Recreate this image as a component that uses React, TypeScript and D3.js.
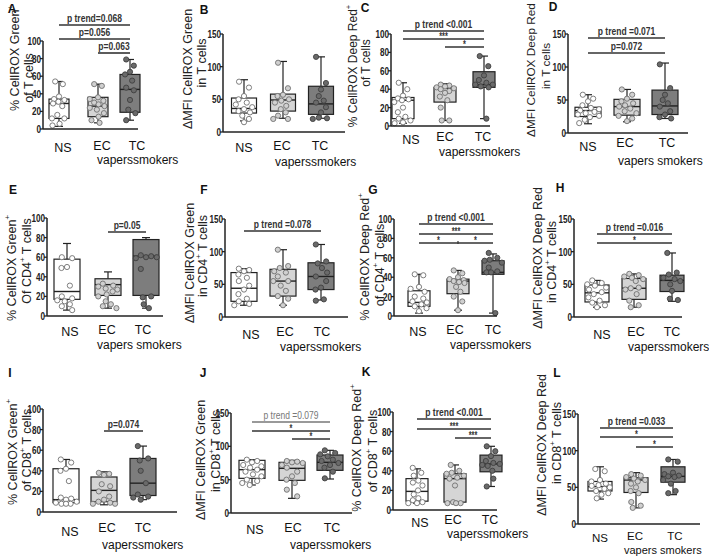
import React from "react";
import * as d3 from "d3";

// ---------- categories ----------
const GROUPS = ["NS", "EC", "TC"];

// ---------- panel A: % CellROX Green+ of T cells ----------
const A_NS = [54, 51, 37, 34, 33, 31, 29, 26, 16, 12, 12, 6, 4];
const A_EC = [51, 49, 36, 34, 32, 30, 28, 26, 24, 22, 18, 14, 10, 7];
const A_TC = [79, 72, 65, 62, 55, 47, 44, 33, 22, 18, 10];
const A_BOX = [[3, 12, 29, 34, 54], [7, 14, 26, 36, 51], [10, 19, 45, 62, 79]];
const A_BR: [string, number, number][] = [["p trend=0.068", 0, 2], ["p=0.056", 0, 2], ["p=0.063", 1, 2]];

// ---------- panel B ----------
const B_NS = [77, 68, 55, 50, 45, 42, 38, 35, 32, 30, 25, 20, 15];
const B_EC = [106, 67, 57, 55, 50, 48, 45, 40, 35, 30, 25, 20, 20];
const B_TC = [115, 75, 65, 55, 48, 45, 38, 30, 22, 20, 21];
const B_BOX = [[17, 29, 36, 52, 80], [21, 32, 49, 58, 108], [21, 27, 43, 70, 115]];
const B_BR: [string, number, number][] = [];

// ---------- panel C ----------
const C_NS = [47, 40, 33, 30, 29, 28, 26, 20, 15, 10, 8, 6, 4, 3];
const C_EC = [45, 44, 43, 42, 41, 40, 38, 36, 32, 28, 20, 6, 6];
const C_TC = [76, 65, 55, 50, 47, 45, 45, 43, 42, 8];
const C_BOX = [[3, 8, 28, 31, 47], [6, 26, 41, 42, 46], [8, 42, 45, 59, 76]];
const C_BR: [string, number, number][] = [["p trend <0.001", 0, 2], ["***", 0, 2], ["*", 1, 2]];

// ---------- panel D ----------
const D_NS = [58, 52, 48, 42, 38, 36, 34, 32, 30, 28, 26, 24, 20, 15];
const D_EC = [66, 58, 52, 48, 45, 42, 40, 37, 33, 30, 26, 22, 18];
const D_TC = [104, 68, 58, 50, 45, 40, 33, 28, 24, 22];
const D_BOX = [[14, 25, 34, 39, 58], [17, 27, 40, 51, 66], [22, 28, 41, 65, 106]];
const D_BR: [string, number, number][] = [["p trend =0.071", 0, 2], ["p=0.072", 0, 2]];

// ---------- panel E ----------
const E_NS = [60, 59, 50, 49, 31, 20, 18, 16, 15, 12, 10, 6];
const E_EC = [33, 31, 30, 28, 27, 25, 22, 20, 15, 12, 10, 8];
const E_TC = [62, 61, 60, 60, 59, 48, 20, 19, 12, 8];
const E_BOX = [[6, 17, 25, 58, 74], [8, 21, 32, 38, 45], [8, 21, 61, 78, 80]];
const E_BR: [string, number, number][] = [["p=0.05", 1, 2]];

// ---------- panel F ----------
const F_NS = [74, 72, 70, 65, 60, 55, 48, 42, 35, 28, 24, 20, 18];
const F_EC = [103, 78, 75, 70, 68, 62, 55, 55, 48, 40, 32, 28, 18];
const F_TC = [111, 85, 82, 75, 68, 62, 55, 45, 42, 27, 25];
const F_BOX = [[18, 24, 44, 68, 74], [18, 32, 55, 73, 103], [26, 42, 62, 83, 111]];
const F_BR: [string, number, number][] = [["p trend =0.078", 0, 2]];

// ---------- panel G ----------
const G_NS = [43, 42, 30, 28, 25, 20, 18, 15, 14, 12, 10, 8, 5];
const G_EC = [47, 44, 40, 38, 37, 36, 35, 34, 30, 25, 20, 15, 6];
const G_TC = [65, 60, 58, 57, 55, 50, 46, 45, 45, 3];
const G_BOX = [[3, 10, 14, 26, 43], [6, 23, 36, 38, 47], [3, 43, 45, 57, 64]];
const G_BR: [string, number, number][] = [["p trend <0.001", 0, 2], ["***", 0, 2], ["*|*", 0, 2]];

// ---------- panel H ----------
const H_NS = [56, 52, 50, 48, 45, 42, 38, 35, 30, 25, 22, 18, 15];
const H_EC = [66, 64, 62, 60, 58, 55, 45, 44, 42, 35, 25, 18, 15];
const H_TC = [98, 68, 65, 60, 58, 55, 50, 40, 28, 26];
const H_BOX = [[15, 23, 37, 49, 56], [15, 27, 44, 59, 66], [24, 39, 56, 64, 98]];
const H_BR: [string, number, number][] = [["p trend =0.016", 0, 2], ["*", 0, 2]];

// ---------- panel I ----------
const I_NS = [51, 48, 42, 40, 30, 14, 13, 12, 10, 9, 8, 8, 8];
const I_EC = [38, 37, 36, 27, 25, 20, 15, 12, 10, 9, 8, 8];
const I_TC = [64, 52, 50, 40, 28, 17, 15, 14, 12];
const I_BOX = [[9, 9, 12, 42, 51], [7, 10, 21, 34, 39], [12, 16, 28, 52, 64]];
const I_BR: [string, number, number][] = [["p=0.074", 1, 2]];

// ---------- panel J ----------
const J_NS = [80, 78, 76, 72, 70, 68, 65, 62, 58, 55, 50, 48, 45, 42];
const J_EC = [78, 77, 76, 75, 72, 68, 62, 55, 50, 45, 35, 25];
const J_TC = [94, 90, 88, 85, 80, 78, 75, 72, 68, 62, 52];
const J_BOX = [[42, 52, 65, 79, 80], [22, 49, 67, 76, 79], [51, 64, 76, 87, 94]];
const J_BR: [string, number, number][] = [["p trend =0.079", 0, 2], ["*", 0, 2], ["*", 1, 2]];

// ---------- panel K ----------
const K_NS = [43, 38, 35, 30, 28, 25, 20, 16, 12, 10, 8, 7, 7];
const K_EC = [46, 40, 38, 37, 35, 33, 32, 25, 8, 7, 7, 7];
const K_TC = [65, 60, 55, 50, 48, 47, 46, 45, 40, 32, 24];
const K_BOX = [[7, 9, 19, 32, 42], [7, 8, 32, 37, 46], [24, 39, 47, 56, 65]];
const K_BR: [string, number, number][] = [["p trend <0.001", 0, 2], ["***", 0, 2], ["***", 1, 2]];

// ---------- panel L ----------
const L_NS = [75, 72, 60, 58, 55, 53, 52, 50, 48, 45, 42, 40, 35];
const L_EC = [68, 66, 64, 62, 60, 58, 55, 50, 45, 42, 30, 25, 22];
const L_TC = [88, 85, 70, 68, 66, 65, 64, 60, 55, 45, 42];
const L_BOX = [[34, 45, 51, 58, 78], [22, 43, 60, 63, 70], [40, 57, 65, 78, 88]];
const L_BR: [string, number, number][] = [["p trend =0.033", 0, 2], ["*", 0, 2], ["*", 1, 2]];

// ---------- text ----------
const Y_LABELS: [string, string][] = [
  ["% CellROX Green^+", "of T cells"],
  ["\u0394MFI CellROX Green", "in T cells"],
  ["% CellROX Deep Red^+", "of T cells"],
  ["\u0394MFI CellROX Deep Red", "in T cells"],
  ["% CellROX Green^+", "Of CD4^+ T cells"],
  ["\u0394MFI CellROX Green", "in CD4^+ T cells"],
  ["% CellROX Deep Red^+", "of CD4^+ T cells"],
  ["\u0394MFI CellROX Deep Red", "in CD4^+ T cells"],
  ["% CellROX Green^+", "of CD8^+ T cells"],
  ["\u0394MFI CellROX Green", "in CD8^+ T cells"],
  ["% CellROX Deep Red^+", "of CD8^+ T cells"],
  ["\u0394MFI CellROX Deep Red", "in CD8^+ T cells"],
];
const SUB_LABELS = [
  "vaperssmokers", "vaperssmokers", "vaperssmokers", "vapers smokers",
  "vapers smokers", "vaperssmokers", "vaperssmokers", "vaperssmokers",
  "vaperssmokers", "vaperssmokers", "vaperssmokers", "vapers smokers",
];
const PANEL_IDS = ["A", "B", "C", "D", "E", "F", "G", "H", "I", "J", "K", "L"];
const Y_MAX = [100, 150, 100, 150, 100, 150, 100, 150, 100, 150, 100, 150];
const Y_STEP = [20, 50, 20, 50, 20, 50, 20, 50, 20, 50, 20, 50];

// ---------- layout (pixels) ----------
type Lay = {
  ox: number; y0: number; yTop: number; xEnd: number; cx: number[]; bw: number;
  id: [number, number]; yl: [number, number][]; ylf: number; cat: [number, number][]; sub: [number, number];
  cf: number; br: number[];
};
const LAYOUT: Lay[] = [
  { ox: 43, y0: 129, yTop: 41, xEnd: 138, cx: [59, 98, 130], bw: 20, id: [12, 9], yl: [[15, 58], [29, 78]], ylf: 12.5, cat: [[63, 148], [102, 146], [137, 146]], sub: [97, 160], cf: 12.5, br: [25, 39, 53] },
  { ox: 223, y0: 132, yTop: 34, xEnd: 345, cx: [244, 283, 321], bw: 25, id: [204, 10], yl: [[188, 69], [202, 63]], ylf: 12.5, cat: [[244, 148], [282, 146], [320, 146]], sub: [275, 162], cf: 12.5, br: [] },
  { ox: 391, y0: 126, yTop: 34, xEnd: 490, cx: [403, 445, 484], bw: 22, id: [365, 8], yl: [[353, 66], [366, 63]], ylf: 12, cat: [[411, 140], [445, 137], [483, 137]], sub: [439, 152], cf: 12.5, br: [31, 39, 47] },
  { ox: 568, y0: 133, yTop: 34, xEnd: 688, cx: [588, 627, 665], bw: 26, id: [553, 7], yl: [[531, 70], [546, 66]], ylf: 11.8, cat: [[588, 147], [625, 143], [667, 143]], sub: [618, 161], cf: 12.5, br: [38, 53] },
  { ox: 47, y0: 316, yTop: 218, xEnd: 163, cx: [67, 108, 146], bw: 26, id: [13, 190], yl: [[12, 268], [27, 261]], ylf: 12.5, cat: [[70, 332], [107, 330], [143, 330]], sub: [97, 345], cf: 12.5, br: [232] },
  { ox: 225, y0: 317, yTop: 219, xEnd: 348, cx: [244, 283, 321], bw: 26, id: [204, 190], yl: [[190, 263], [203, 256]], ylf: 12.5, cat: [[251, 335], [285, 332], [322, 332]], sub: [280, 347], cf: 12.5, br: [231] },
  { ox: 394, y0: 316, yTop: 219, xEnd: 497, cx: [419, 458, 493], bw: 22, id: [373, 190], yl: [[365, 257], [380, 265]], ylf: 12.5, cat: [[418, 332], [455, 330], [493, 330]], sub: [450, 345], cf: 12.5, br: [224, 234, 243] },
  { ox: 574, y0: 317, yTop: 219, xEnd: 682, cx: [597, 634, 672], bw: 24, id: [560, 188], yl: [[538, 258], [552, 262]], ylf: 12.5, cat: [[602, 335], [636, 332], [672, 332]], sub: [628, 347], cf: 12.5, br: [234, 243] },
  { ox: 43, y0: 512, yTop: 409, xEnd: 177, cx: [66, 104, 143], bw: 26, id: [10, 373], yl: [[13, 452], [27, 450]], ylf: 12.5, cat: [[70, 532], [107, 528], [143, 528]], sub: [102, 545], cf: 12.5, br: [431] },
  { ox: 231, y0: 513, yTop: 413, xEnd: 352, cx: [252, 292, 330], bw: 26, id: [203, 373], yl: [[201, 460], [216, 451]], ylf: 12.5, cat: [[255, 530], [293, 528], [332, 528]], sub: [290, 545], cf: 12.5, br: [422, 431, 439] },
  { ox: 393, y0: 510, yTop: 412, xEnd: 497, cx: [417, 455, 491], bw: 22, id: [366, 372], yl: [[357, 448], [373, 451]], ylf: 12.5, cat: [[420, 523], [453, 520], [490, 520]], sub: [447, 534], cf: 12.5, br: [419, 429, 438] },
  { ox: 578, y0: 524, yTop: 414, xEnd: 700, cx: [600, 636, 673], bw: 24, id: [557, 373], yl: [[542, 445], [557, 443]], ylf: 12.5, cat: [[600, 538], [635, 536], [675, 536]], sub: [624, 549.5], cf: 11.5, br: [428, 437, 447] },
];

const PANELS = [
  { g: [A_NS, A_EC, A_TC], box: A_BOX, br: A_BR },
  { g: [B_NS, B_EC, B_TC], box: B_BOX, br: B_BR },
  { g: [C_NS, C_EC, C_TC], box: C_BOX, br: C_BR },
  { g: [D_NS, D_EC, D_TC], box: D_BOX, br: D_BR },
  { g: [E_NS, E_EC, E_TC], box: E_BOX, br: E_BR },
  { g: [F_NS, F_EC, F_TC], box: F_BOX, br: F_BR },
  { g: [G_NS, G_EC, G_TC], box: G_BOX, br: G_BR },
  { g: [H_NS, H_EC, H_TC], box: H_BOX, br: H_BR },
  { g: [I_NS, I_EC, I_TC], box: I_BOX, br: I_BR },
  { g: [J_NS, J_EC, J_TC], box: J_BOX, br: J_BR },
  { g: [K_NS, K_EC, K_TC], box: K_BOX, br: K_BR },
  { g: [L_NS, L_EC, L_TC], box: L_BOX, br: L_BR },
];

// ---------- styles ----------
const BOX_FILL = ["#ffffff", "#d5d5d5", "#7d7d7d"];
const PT_FILL = ["#ffffff", "#d0d0d0", "#6a6a6a"];
const PT_STROKE = ["#707070", "#707070", "#404040"];
const INK = "#222";
const SANS = "'Liberation Sans', Arial, sans-serif";
const R = 2.6;
const NARROW_X = 0.74;

function Rich({ s }: { s: string }) {
  const parts = s.split("^+");
  const out: any[] = [];
  parts.forEach((p, i) => {
    if (i > 0) out.push(<tspan key={"s" + i} baselineShift="super" fontSize="0.62em">+</tspan>);
    if (p.length > 0) out.push(<tspan key={"t" + i}>{p}</tspan>);
  });
  return <>{out}</>;
}

function Narrow({ x, y, anchor, size, weight, fill, children }: any) {
  return (
    <text transform={`translate(${x},${y}) scale(${NARROW_X},1)`} fontFamily={SANS} fontWeight={weight}
      fontSize={size} textAnchor={anchor} dominantBaseline="central" fill={fill}>{children}</text>
  );
}

// deterministic dodge so points do not overlap within a group
function swarm(vals: number[], y: (v: number) => number, half: number) {
  const placed: { x: number; y: number }[] = [];
  const order = vals.map((_, i) => i).sort((a, b) => vals[b] - vals[a]);
  const res: number[] = new Array(vals.length).fill(0);
  const step = R * 1.25;
  const pattern = [-0.45, 0.45, 0, -0.2, 0.25];
  order.forEach((i, n) => {
    const py = y(vals[i]);
    const start = pattern[n % pattern.length] * half;
    const cands = [start];
    for (let k = 1; k <= 12; k++) cands.push(start - k * step, start + k * step);
    let best = start, bestD = -1;
    for (const cx of cands) {
      if (Math.abs(cx) > half) continue;
      let md = Infinity;
      for (const p of placed) md = Math.min(md, Math.hypot(p.x - cx, p.y - py));
      if (md >= 2 * R + 0.4) { best = cx; bestD = md; break; }
      if (md > bestD) { bestD = md; best = cx; }
    }
    placed.push({ x: best, y: py });
    res[i] = best;
  });
  return res;
}

function Panel({ k }: { k: number }) {
  const L = LAYOUT[k];
  const P = PANELS[k];
  const y = d3.scaleLinear().domain([0, Y_MAX[k]]).range([L.y0, L.yTop]);
  const x = d3.scaleOrdinal<string, number>().domain(GROUPS).range(L.cx);
  const ticks = d3.range(0, Y_MAX[k] + 0.001, Y_STEP[k]);
  const half = L.bw / 2;
  return (
    <g>
      <text x={L.id[0]} y={L.id[1]} fontFamily={SANS} fontWeight="bold" fontSize={12} textAnchor="middle" dominantBaseline="central" fill="#111">{PANEL_IDS[k]}</text>
      {L.yl.map((p, i) => (
        <text key={i} transform={`translate(${p[0]},${p[1]}) rotate(-90)`} fontFamily={SANS} fontSize={L.ylf} textAnchor="middle" dominantBaseline="central" fill="#222">
          <Rich s={Y_LABELS[k][i]} />
        </text>
      ))}
      {/* boxes */}
      {GROUPS.map((gname, gi) => {
        const b = P.box[gi];
        const cx = x(gname);
        return (
          <g key={gname}>
            <line x1={cx} x2={cx} y1={y(b[0])} y2={y(b[1])} stroke={INK} strokeWidth={1.2} />
            <line x1={cx} x2={cx} y1={y(b[3])} y2={y(b[4])} stroke={INK} strokeWidth={1.2} />
            <line x1={cx - 4} x2={cx + 4} y1={y(b[0])} y2={y(b[0])} stroke={INK} strokeWidth={1.2} />
            <line x1={cx - 4} x2={cx + 4} y1={y(b[4])} y2={y(b[4])} stroke={INK} strokeWidth={1.2} />
            <rect x={cx - half} y={y(b[3])} width={L.bw} height={y(b[1]) - y(b[3])} fill={BOX_FILL[gi]} stroke={INK} strokeWidth={1.2} />
            <line x1={cx - half} x2={cx + half} y1={y(b[2])} y2={y(b[2])} stroke={INK} strokeWidth={1.4} />
          </g>
        );
      })}
      {/* points */}
      {GROUPS.map((gname, gi) => {
        const vals = P.g[gi];
        const off = swarm(vals, y, half - 1.5);
        return vals.map((v, i) => (
          <circle key={gname + i} cx={x(gname) + off[i]} cy={y(v)} r={R} fill={PT_FILL[gi]} stroke={PT_STROKE[gi]} strokeWidth={0.9} />
        ));
      })}
      {/* axes */}
      <line x1={L.ox} x2={L.ox} y1={L.y0} y2={L.yTop} stroke={INK} strokeWidth={1.5} />
      <line x1={L.ox} x2={L.xEnd} y1={L.y0} y2={L.y0} stroke={INK} strokeWidth={1.5} />
      {ticks.map((t) => (
        <g key={t}>
          <line x1={L.ox - 3} x2={L.ox} y1={y(t)} y2={y(t)} stroke={INK} strokeWidth={1.3} />
          <Narrow x={L.ox - 2} y={y(t)} anchor="end" size={11} weight="bold" fill="#222">{t}</Narrow>
        </g>
      ))}
      {/* category labels */}
      {GROUPS.map((gname, gi) => (
        <text key={gname} x={L.cat[gi][0]} y={L.cat[gi][1]} fontFamily={SANS} fontSize={L.cf} textAnchor="middle" dominantBaseline="central" fill="#111">{gname}</text>
      ))}
      <text x={L.sub[0]} y={L.sub[1]} fontFamily={SANS} fontSize={L.cf - 0.5} dominantBaseline="central" fill="#111">{SUB_LABELS[k]}</text>
      {/* brackets */}
      {P.br.map((b, i) => {
        const ly = L.br[i];
        const x1 = x(GROUPS[b[1]]), x2 = x(GROUPS[b[2]]);
        const stars = b[0].startsWith("*");
        const gray = PANEL_IDS[k] === "J" && i === 0;
        const col = gray ? "#777" : "#333";
        if (b[0].includes("|")) {
          const xm = x(GROUPS[1]);
          return (
            <g key={i}>
              <line x1={x1} x2={x2} y1={ly} y2={ly} stroke="#333" strokeWidth={1.6} />
              <line x1={xm} x2={xm} y1={ly - 2} y2={ly + 1} stroke="#333" strokeWidth={1.2} />
              <Narrow x={(x1 + xm) / 2} y={ly - 2} anchor="middle" size={10} weight="bold" fill="#333">*</Narrow>
              <Narrow x={(xm + x2) / 2} y={ly - 2} anchor="middle" size={10} weight="bold" fill="#333">*</Narrow>
            </g>
          );
        }
        return (
          <g key={i}>
            <line x1={x1} x2={x2} y1={ly} y2={ly} stroke={col} strokeWidth={1.6} />
            <Narrow x={(x1 + x2) / 2} y={stars ? ly - 2 : ly - 6.5} anchor="middle" size={stars ? 10 : 11.5} weight={gray ? "normal" : "bold"} fill={col}>{b[0]}</Narrow>
          </g>
        );
      })}
    </g>
  );
}

export default function App() {
  return (
    <svg width={709} height={556} style={{ position: "absolute", left: 0, top: 0, background: "#fff" }}>
      <rect width={709} height={556} fill="#fff" />
      {PANEL_IDS.map((_, k) => <Panel key={k} k={k} />)}
    </svg>
  );
}
